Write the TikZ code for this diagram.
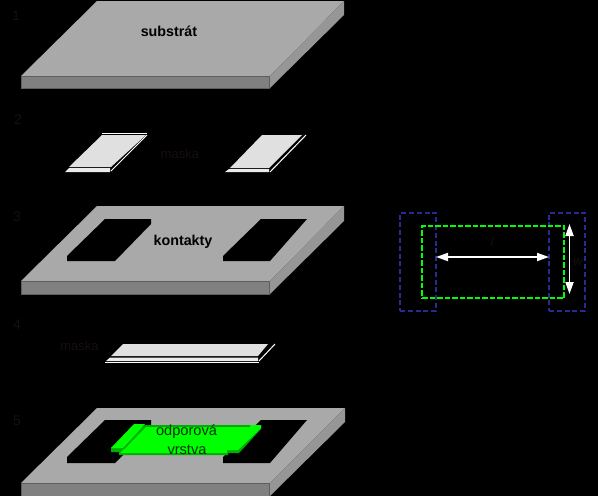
\documentclass[tikz,border=0pt]{standalone}
\usepackage{fontspec}
\setmainfont{Liberation Sans}
\usetikzlibrary{arrows.meta}
\definecolor{tope}{HTML}{A9A9A9}
\definecolor{fronte}{HTML}{808080}
\definecolor{sidee}{HTML}{969696}
\definecolor{edgee}{HTML}{5E5E5E}
\definecolor{maskf}{HTML}{E0E0E0}
\definecolor{greenl}{HTML}{00FF00}
\definecolor{greend}{HTML}{00B000}
\definecolor{blued}{HTML}{2A2A96}
\definecolor{darktxt}{HTML}{160F0F}
\definecolor{greentxt}{HTML}{003000}
\tikzset{
  x=1pt,y=-1pt,
  topface/.style={fill=tope},
  frontface/.style={fill=fronte,draw=edgee,line width=.8pt},
  sideface/.style={fill=sidee},
  hole/.style={fill=black},
  maskface/.style={fill=maskf},
  maskwhite/.style={draw=white,line width=1pt},
  maskstrip/.style={fill=white!92!black},
  numlabel/.style={font=\fontsize{14}{16}\selectfont,text=darktxt,inner sep=0pt},
  masklabel/.style={font=\fontsize{13}{15}\selectfont,text=darktxt,inner sep=0pt},
  boldlabel/.style={font=\fontsize{14.3}{16}\selectfont\bfseries,text=black,inner sep=0pt},
  greenlabel/.style={font=\fontsize{14.6}{17}\selectfont,text=greentxt,inner sep=0pt},
  dimlabel/.style={font=\fontsize{13}{15}\selectfont\itshape,text=darktxt,inner sep=0pt},
  bluebox/.style={draw=blued,line width=1.7pt,dash pattern=on 5pt off 2.8pt},
  greenbox/.style={draw=greenl,line width=2pt,dash pattern=on 5.5pt off 2pt},
  dimarrow/.style={draw=white,line width=1.8pt,{Triangle[length=12pt,width=8pt]}-{Triangle[length=12pt,width=8pt]}},
}
\begin{document}
\begin{tikzpicture}
\useasboundingbox (0,0) rectangle (598,496);
\fill[black] (0,0) rectangle (598,496);

% 1 substrate
\fill[topface] (97,1) -- (344,1) -- (270,76) -- (21,76) -- cycle;
\fill[sideface] (344,1) -- (344,15) -- (270,88) -- (270,76) -- cycle;
\filldraw[frontface] (21.5,76.5) rectangle (269.5,88);

% 2 masks
\fill[maskface] (102,135) -- (146,135) -- (111,167) -- (69,167) -- cycle;
\fill[maskstrip] (69,168) -- (110,168) -- (110,172) -- (65,172) -- cycle;
\draw[maskwhite] (102,133.5) -- (147,133.5);
\draw[maskwhite] (147,135) -- (111,171);
\fill[maskface] (262,135) -- (302,135) -- (269,168) -- (230,168) -- cycle;
\fill[maskstrip] (229,169) -- (269,169) -- (269,172) -- (225,172) -- cycle;
\draw[maskwhite] (306,135) -- (270,172);

% 3 contacts
\fill[topface] (97,206) -- (344,206) -- (270,281) -- (21,281) -- cycle;
\fill[sideface] (344,206) -- (344,221) -- (270,294) -- (270,281) -- cycle;
\filldraw[frontface] (21.5,281.5) rectangle (269.5,294);
\fill[hole] (105,219) -- (151,219) -- (151,224) -- (115,261) -- (67,261) -- (67,256) -- cycle;
\fill[hole] (261,219) -- (307,219) -- (270,261) -- (223,261) -- (223,256) -- cycle;

% 4 mask
\fill[maskface] (123,344) -- (268,344) -- (258,356) -- (111,356) -- cycle;
\fill[maskstrip] (110,357.5) -- (258,357.5) -- (258,361) -- (106,361) -- cycle;
\draw[maskwhite] (105,362.5) -- (259,362.5);
\draw[maskwhite] (275,344) -- (259,361);

% 5 resistive layer
\fill[topface] (97,408) -- (345,408) -- (270,483) -- (21,483) -- cycle;
\fill[sideface] (345,408) -- (345,422) -- (270,496) -- (270,483) -- cycle;
\filldraw[frontface] (21.5,483.5) rectangle (269.5,497);
\fill[hole] (105,420) -- (151,420) -- (151,427) -- (115,463) -- (67,463) -- (67,457) -- cycle;
\fill[hole] (261,420) -- (307,420) -- (270,463) -- (223,463) -- (223,457) -- cycle;
\fill[greend] (111,448) -- (111,452) -- (119,452) -- (119,455) -- (228,455) -- (228,453) -- (239,453) -- (261,429) -- (261,425) -- (145,425) -- cycle;
\fill[greenl] (134,424) -- (145,424) -- (123,448) -- (111,448) -- cycle;
\fill[greenl] (146,427) -- (250,427) -- (250,425) -- (261,425) -- (261,428) -- (238,450) -- (227,450) -- (227,453) -- (120,453) -- (124,449) -- cycle;
\draw[greend,line width=1pt] (146,425) -- (124,449);

% labels
\node[numlabel] (n1) at (16,16) {1};
\node[numlabel] (n2) at (18,120) {2};
\node[numlabel] (n3) at (17,217) {3};
\node[numlabel] (n4) at (17,325) {4};
\node[numlabel] (n5) at (17,421) {5};
\node[masklabel] (m1) at (180,154) {maska};
\node[masklabel] (m2) at (79.5,346) {maska};
\node[boldlabel] (s) at (169,31) {substrát};
\node[boldlabel] (k) at (183,241.5) {kontakty};
\node[greenlabel] (o1) at (186.5,432) {odporová};
\node[greenlabel] (o2) at (187,449.5) {vrstva};

% right diagram
\node[bluebox,minimum width=36pt,minimum height=98pt,inner sep=0pt] (bl) at (418,262) {};
\node[bluebox,minimum width=36pt,minimum height=98pt,inner sep=0pt] (br) at (567,262) {};
\node[greenbox,minimum width=142pt,minimum height=72pt,inner sep=0pt] (gb) at (493,262) {};
\coordinate (la) at (436,257);
\coordinate (lb) at (549,257);
\coordinate (wa) at (569.5,224);
\coordinate (wb) at (569.5,294);
\draw[dimarrow] (la) -- (lb);
\draw[dimarrow] (wa) -- (wb);
\node[dimlabel] (ll) at (492,242) {l};
\node[dimlabel] (lw) at (578,262) {w};
\end{tikzpicture}
\end{document}
